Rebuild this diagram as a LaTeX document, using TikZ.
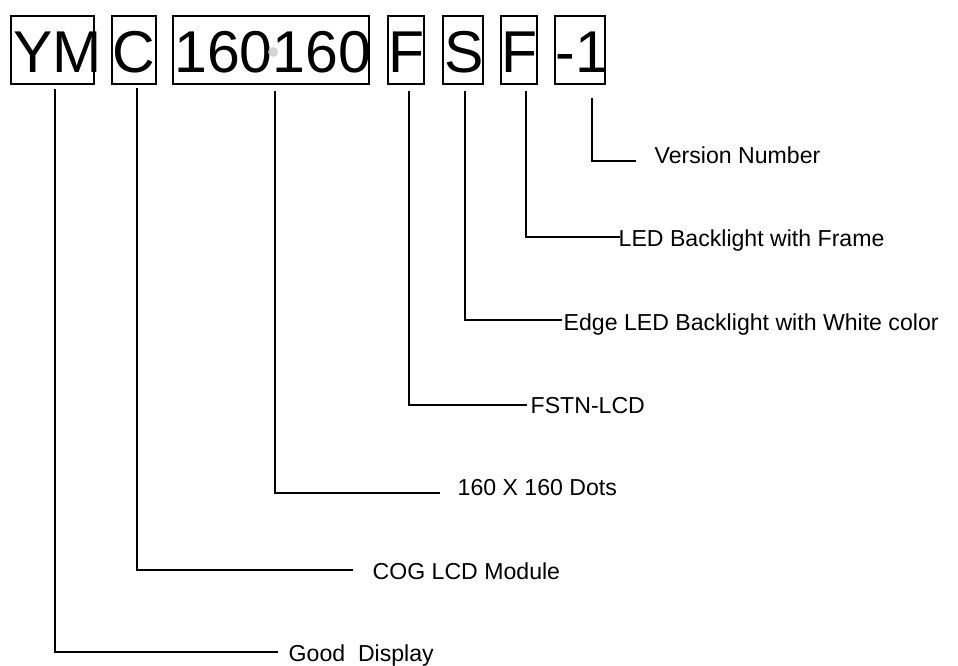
\documentclass[tikz,border=0pt]{standalone}
\usepackage{fontspec}
\setmainfont{Liberation Sans}
\begin{document}
\begin{tikzpicture}[x=1pt,y=-1pt,line width=1.4pt,
  codebox/.style={draw,inner sep=0pt,minimum height=68pt},
  code/.style={anchor=base west,inner sep=0pt,font=\fontsize{59}{59}\selectfont},
  lab/.style={anchor=base west,inner sep=0pt,font=\fontsize{23.1}{23.1}\selectfont},
  conn/.style={line width=1.4pt}]
\useasboundingbox (0,0) rectangle (958,666);
% boxes
\node[codebox,minimum width=83pt] (bYM) at (52.5,50) {};
\node[codebox,minimum width=44pt] (bC) at (134,50) {};
\node[codebox,minimum width=196pt] (bN) at (271,50) {};
\node[codebox,minimum width=36pt] (bF) at (406,50) {};
\node[codebox,minimum width=40pt] (bS) at (463,50) {};
\node[codebox,minimum width=36pt] (bF2) at (519,50) {};
\node[codebox,minimum width=50pt] (bV) at (580,50) {};
% code letters
\node[code] (tYM) at (12.6,73) {YM};
\node[code] (tC) at (112,73) {C};
\node[code] (tN) at (173.6,73) {160160};
\node[code] (tF) at (388,73) {F};
\node[code] (tS) at (444,73) {S};
\node[code] (tF2) at (501,73) {F};
\node[code] (tV) at (555,73) {-1};
\fill[gray!40,opacity=0.85] (273,52) circle (5pt);
% labels
\node[lab] (lV) at (654,163) {Version Number};
\node[lab] (lF2) at (618,246) {LED Backlight with Frame};
\node[lab] (lS) at (563,330) {Edge LED Backlight with White color};
\node[lab] (lF) at (530,413) {FSTN-LCD};
\node[lab] (lN) at (457,495) {160 X 160 Dots};
\node[lab] (lC) at (372,579) {COG LCD Module};
\node[lab] (lYM) at (288,661) {Good\ \ Display};
% connector coordinates
\coordinate (sV) at (592,98);  \coordinate (eV) at (636,161);
\coordinate (sF2) at (526,91); \coordinate (eF2) at (620,237);
\coordinate (sS) at (465,91);  \coordinate (eS) at (562,320);
\coordinate (sF) at (409,91);  \coordinate (eF) at (527,405);
\coordinate (sN) at (275,91);  \coordinate (eN) at (440,493);
\coordinate (sC) at (137,88);  \coordinate (eC) at (353,570);
\coordinate (sYM) at (55,89);  \coordinate (eYM) at (278,652);
\draw[conn] (sV) |- (eV);
\draw[conn] (sF2) |- (eF2);
\draw[conn] (sS) |- (eS);
\draw[conn] (sF) |- (eF);
\draw[conn] (sN) |- (eN);
\draw[conn] (sC) |- (eC);
\draw[conn] (sYM) |- (eYM);
\end{tikzpicture}
\end{document}
